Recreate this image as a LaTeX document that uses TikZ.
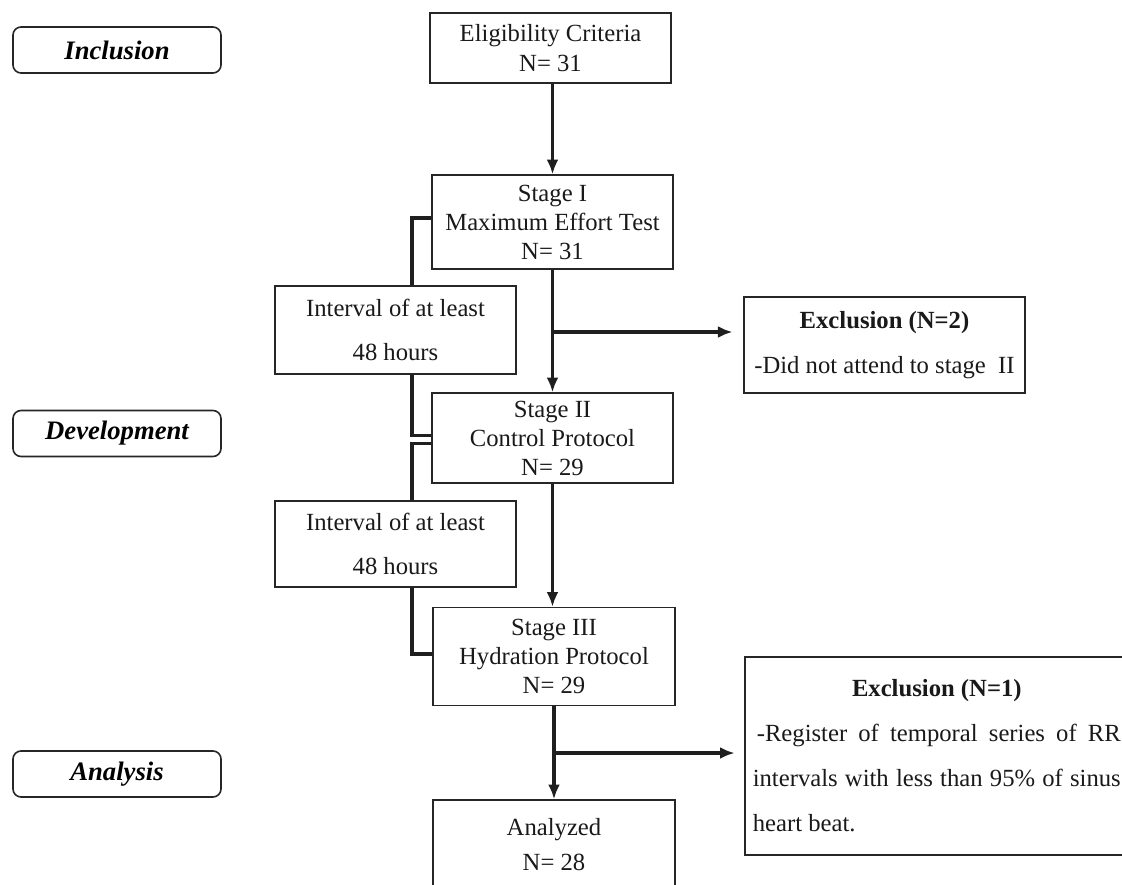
\documentclass[tikz,border=0pt]{standalone}
\usepackage{fontspec}
\setmainfont{Liberation Serif}
\usetikzlibrary{arrows.meta}
\tikzset{
    box/.style={draw=black!85, line width=1.2pt, align=center, inner sep=0pt, text=black!90, font=\fontsize{18.5}{21.75}\selectfont},
    phase/.style={draw=black!85, line width=1.2pt, rounded corners=6pt, inner sep=0pt, minimum width=156pt, minimum height=34.5pt, font=\fontsize{20}{24}\selectfont\bfseries\itshape},
    arr/.style={line width=2.6pt, draw=black!88, -{Latex[length=11pt,width=9pt]}},
    link/.style={line width=2.6pt, draw=black!88}
}
\begin{document}
\begin{tikzpicture}[x=0.75pt, y=-0.75pt]
    \useasboundingbox (0,0) rectangle (1122,885);
    \clip (0,0) rectangle (1122,885);
    \node[phase] (incl) at (117,50) {Inclusion};
    \node[phase] (devel) at (117,433.5) {Development};
    \node[phase] (anal) at (117,774) {Analysis};
    \node[box, minimum width=180.75pt, minimum height=52.5pt, font=\fontsize{18.5}{22.5}\selectfont] (elig) at (550.5,48) {Eligibility Criteria\\N= 31};
    \node[box, minimum width=180.75pt, minimum height=70.5pt] (stI) at (552.5,222) {Stage I\\Maximum Effort Test\\N= 31};
    \node[box, minimum width=180.75pt, minimum height=66pt, font=\fontsize{18.5}{33}\selectfont] (int1) at (395.5,330) {Interval of at least\\48 hours};
    \node[box, minimum width=180.75pt, minimum height=67.5pt] (stII) at (552.5,438) {Stage II\\Control Protocol\\N= 29};
    \node[box, minimum width=180.75pt, minimum height=64.5pt, font=\fontsize{18.5}{33}\selectfont] (int2) at (395.5,544) {Interval of at least\\48 hours};
    \node[box, minimum width=181.5pt, minimum height=73.5pt] (stIII) at (554,656.5) {Stage III\\Hydration Protocol\\N= 29};
    \node[box, minimum width=181.5pt, minimum height=66.75pt, font=\fontsize{18.5}{26.25}\selectfont] (analyzed) at (554,844.5) {Analyzed\\N= 28};
    \node[box, minimum width=210.75pt, minimum height=72pt, font=\fontsize{18.5}{33.75}\selectfont] (excl1) at (884.5,345) {\textbf{Exclusion (N=2)}\\-Did not attend to stage~~II};
    \node[box, anchor=west, align=justify, text width=276pt, inner xsep=6pt, minimum height=148.5pt, font=\fontsize{18.5}{33.75}\selectfont] (excl2) at (744,756) {{\centering\textbf{Exclusion (N=1)}\par}\hspace*{3pt}-Register of temporal series of RR\linebreak intervals with less than 95\% of sinus\linebreak heart beat.};
    \coordinate (br1) at (552.5,332);
    \coordinate (br2) at (554,753);
    \draw[arr] (elig.south -| stI) -- (stI.north);
    \draw[arr] (stI.south) -- (stII.north);
    \draw[arr, shorten >=8pt] (br1) -- (br1 -| excl1.west);
    \draw[arr] (stII.south) -- (stII.south |- stIII.north);
    \draw[arr] (stIII.south) -- (analyzed.north);
    \draw[arr, shorten >=7pt] (br2) -- (br2 -| excl2.west);
    \draw[link] ([yshift=3pt]stI.west) -- ++(-19,0) coordinate (b1) -- (b1 |- int1.north);
    \draw[link] (b1 |- int1.south) |- ([yshift=2pt]stII.west);
    \draw[link] ([yshift=-4pt]stII.west) -- ++(-19,0) coordinate (b2) -- (b2 |- int2.north);
    \draw[link] (b2 |- int2.south) |- ([yshift=2pt]stIII.west);
\end{tikzpicture}
\end{document}
